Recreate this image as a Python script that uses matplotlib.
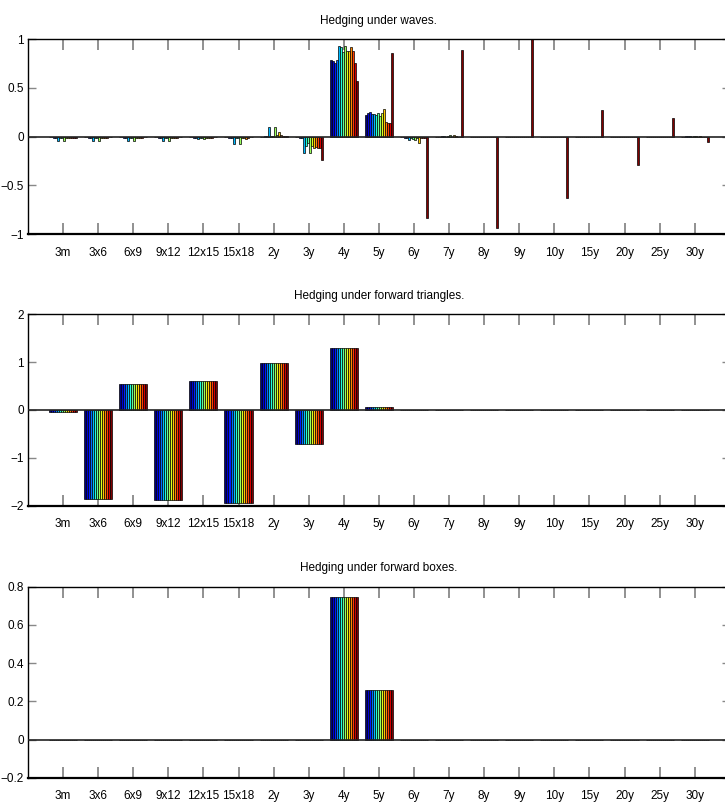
import numpy as np
import matplotlib.pyplot as plt

plt.rcParams['font.family'] = ['Liberation Sans Narrow', 'Liberation Sans', 'DejaVu Sans']
plt.rcParams['font.size'] = 8.5

labels = ['3m', '3x6', '6x9', '9x12', '12x15', '15x18', '2y', '3y', '4y', '5y',
          '6y', '7y', '8y', '9y', '10y', '15y', '20y', '25y', '30y']
nSeries = 14

# hedge ratios under waves, one row per instrument, one value per series
waves = [
    [0, 0, -0.01, -0.02, -0.05, -0.01, -0.01, -0.05, -0.01, -0.02, -0.01, -0.01, -0.01, -0.01],  # 3m
    [0, 0, -0.01, -0.01, -0.05, -0.01, -0.01, -0.05, -0.02, -0.01, -0.01, -0.01, 0, 0],          # 3x6
    [0, 0, -0.01, -0.01, -0.05, -0.01, -0.01, -0.05, -0.02, -0.01, -0.01, -0.01, 0, 0],          # 6x9
    [0, 0, -0.01, -0.01, -0.05, -0.01, -0.01, -0.05, -0.01, -0.01, -0.01, -0.01, 0, 0],          # 9x12
    [0, 0, -0.01, -0.01, -0.03, -0.01, -0.01, -0.03, -0.01, -0.01, -0.01, -0.01, 0, 0],          # 12x15
    [0, 0, -0.01, -0.02, -0.08, -0.01, -0.01, -0.08, -0.02, -0.01, -0.03, -0.01, 0, 0],          # 15x18
    [0, 0, 0.01, 0.01, 0.10, 0.01, 0.01, 0.10, 0.02, 0.05, 0.02, 0.01, 0.01, 0.01],              # 2y
    [0, 0, -0.01, -0.02, -0.17, -0.10, -0.07, -0.17, -0.10, -0.12, -0.11, -0.12, -0.12, -0.24],  # 3y
    [0.79, 0.77, 0.75, 0.79, 0.93, 0.92, 0.87, 0.93, 0.88, 0.88, 0.92, 0.88, 0.75, 0.57],         # 4y
    [0.22, 0.24, 0.25, 0.23, 0.23, 0.22, 0.24, 0.21, 0.24, 0.28, 0.15, 0.14, 0.14, 0.86],         # 5y
    [0, 0, -0.01, -0.02, -0.04, -0.01, -0.03, -0.04, -0.02, -0.07, -0.02, -0.01, -0.01, -0.84],  # 6y
    [0, 0, 0, 0.01, 0.01, 0, 0.01, 0.02, 0, 0.02, 0.01, 0, 0, 0.89],                              # 7y
    [0, 0, 0, 0, 0, 0, 0, 0, 0, 0, 0, 0, 0, -0.94],                                               # 8y
    [0, 0, 0, 0, 0, 0, 0, 0, 0, 0, 0, 0, 0, 1.0],                                                 # 9y
    [0, 0, 0, 0, 0, 0, 0, 0, 0, 0, 0, 0, 0, -0.63],                                               # 10y
    [0, 0, 0, 0, 0, 0, 0, 0, 0, 0, 0, 0, 0, 0.27],                                                # 15y
    [0, 0, 0, 0, 0, 0, 0, 0, 0, 0, 0, 0, 0, -0.29],                                               # 20y
    [0, 0, 0, 0, 0, 0, 0, 0, 0, 0, 0, 0, 0, 0.19],                                                # 25y
    [0, 0, 0.01, 0.01, 0.01, 0, 0.01, 0.01, 0, 0.01, 0, 0, 0, -0.06],                             # 30y
]

# under triangles and boxes every series gives the same ratio per instrument
triangles = [-0.05, -1.85, 0.55, -1.88, 0.61, -1.94, 0.98, -0.71, 1.30, 0.07,
             0, 0, 0, 0, 0, 0, 0, 0, 0]
boxes = [0, 0, 0, 0, 0, 0, 0, 0, 0.745, 0.258,
         0, 0, 0, 0, 0, 0, 0, 0, 0]

##########################  GROUPED BARS  #####################################

def groupedBars(ax, table, title, yTicks, yLim):
    table = np.asarray(table, dtype=float)
    x = np.arange(1, len(labels) + 1)
    colors = plt.cm.jet(np.linspace(0, 1, nSeries))
    w = 0.8 / nSeries
    for j in range(nSeries):
        offset = -0.4 + w * (j + 0.5)
        ax.bar(x + offset, table[:, j], width=w, color=colors[j],
               edgecolor='black', linewidth=0.5, zorder=2)
    ax.axhline(0, color='#222222', linewidth=1.2, zorder=3)
    ax.set_xlim(0, 20)
    ax.set_ylim(*yLim)
    ax.set_xticks(x)
    ax.set_xticklabels(labels)
    ax.set_yticks(yTicks)
    ax.set_yticklabels([('%g' % t).replace('-', '\u2212') for t in yTicks])
    ax.tick_params(axis='x', direction='in', top=True, length=8, width=1.3,
                   color='#888888', pad=9)
    ax.tick_params(axis='y', direction='in', right=True, length=6, width=1.0,
                   color='#888888', pad=3)
    for s in ax.spines.values():
        s.set_linewidth(1.0)
    ax.spines['bottom'].set_linewidth(1.6)
    ax.set_title(title, fontsize=8.5, pad=11)

fig = plt.figure(figsize=(7.25, 8.05), dpi=100)
ax1 = fig.add_axes([0.0386, 0.7093, 0.968, 0.2422])
ax2 = fig.add_axes([0.0386, 0.3718, 0.968, 0.2378])
ax3 = fig.add_axes([0.0386, 0.0339, 0.968, 0.2373])

groupedBars(ax1, waves, 'Hedging under waves.', [-1, -0.5, 0, 0.5, 1], (-1, 1))
groupedBars(ax2, np.tile(np.asarray(triangles)[:, None], (1, nSeries)),
            'Hedging under forward triangles.', [-2, -1, 0, 1, 2], (-2, 2))
groupedBars(ax3, np.tile(np.asarray(boxes)[:, None], (1, nSeries)),
            'Hedging under forward boxes.', [-0.2, 0, 0.2, 0.4, 0.6, 0.8], (-0.2, 0.8))

fig.savefig('out.png', dpi=100)
